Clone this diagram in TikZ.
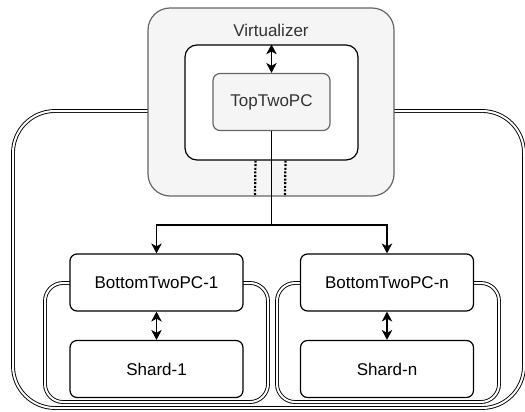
\documentclass[tikz,border=0pt]{standalone}
\usepackage{fontspec}
\setmainfont{Liberation Sans}
\usetikzlibrary{arrows.meta, positioning}
\definecolor{grayfill}{HTML}{F5F5F5}
\definecolor{grayline}{HTML}{666666}
\definecolor{graytext}{HTML}{333333}

\begin{document}
\begin{tikzpicture}[
  x=1pt, y=-1pt,
  font=\fontsize{17}{20}\selectfont,
  >={Stealth[length=10pt,width=10.5pt,inset=3pt]},
  box/.style={draw, line width=1.2pt, rounded corners=7pt,
              fill=white, minimum width=173pt, minimum height=57pt,
              inner sep=0pt, align=center},
  grybox/.style={box, draw=grayline, fill=grayfill, text=graytext},
  wrap/.style={draw, line width=0.9pt, double=white, double distance=2pt,
               rounded corners=18pt},
  arr/.style={->, line width=1.2pt},
  dblarr/.style={<->, line width=1.2pt},
  dotline/.style={line width=2.2pt, dash pattern=on 2pt off 1.6pt}
]
\useasboundingbox (0,0) rectangle (525,412);

% outer container and the two shard groups
\draw[wrap, rounded corners=42pt] (13,111) rectangle (524,408);
\draw[wrap] (45,283) rectangle (268,402);
\draw[wrap] (277,283) rectangle (499,402);

% virtualizer
\node[grybox, rounded corners=22pt, minimum width=246pt,
      minimum height=188pt] (virt) at (271,102) {};
\node[text=graytext] (virtlbl) at (271,30) {Virtualizer};
\node[box, rounded corners=12pt, minimum width=173pt,
      minimum height=115pt] (enc) at (271.5,102.5) {};
\node[grybox, minimum width=117pt] (top) at (271.5,102) {TopTwoPC};

% bottom layer
\node[box] (b1) at (156.5,282.5) {BottomTwoPC-1};
\node[box] (s1) at (156.5,369) {Shard-1};
\node[box] (bn) at (387,282.5) {BottomTwoPC-n};
\node[box] (sn) at (387,369) {Shard-n};

\draw[dblarr] (enc.north) -- (top.north);
\draw[dblarr] (b1) -- (s1);
\draw[dblarr] (bn) -- (sn);

\draw[dotline] ([xshift=-16pt]enc.south) -- ([xshift=-16pt]virt.south);
\draw[dotline] ([xshift=14pt]enc.south) -- ([xshift=14pt]virt.south);

\coordinate (split) at (271.5,225);
\draw[line width=1.2pt] (top.south) -- (split);
\draw[arr] (split) -| (b1.north);
\draw[arr] (split) -| (bn.north);

\end{tikzpicture}
\end{document}
